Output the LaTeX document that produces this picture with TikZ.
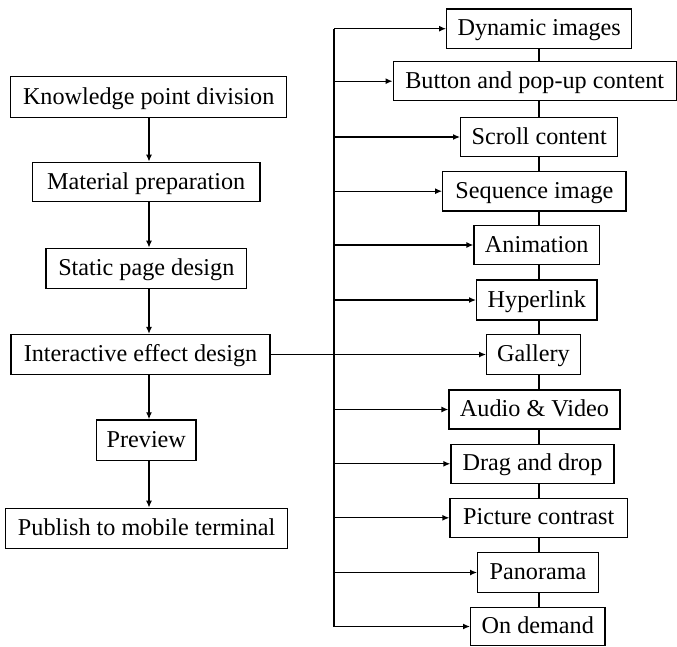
\documentclass[tikz,border=0pt]{standalone}
\usepackage{fontspec}
\setmainfont{Liberation Serif}
\usetikzlibrary{arrows.meta}
\begin{document}
\begin{tikzpicture}[x=1pt,y=-1pt,
  box/.style={draw, line width=1.3pt, inner sep=0pt, text height=17.5pt, text depth=3.5pt,
    font=\fontsize{24.2}{28}\selectfont},
  link/.style={line width=1.3pt},
  arr/.style={line width=1.3pt, -{Latex[length=7pt,width=6pt]}}]
\useasboundingbox (0,0) rectangle (677,646);
% main workflow (left column)
\node[box, minimum width=276, minimum height=40.6] (k) at (148.7,97) {Knowledge point division};
\node[box, minimum width=227.7, minimum height=39.4] (m) at (146.2,182) {Material preparation};
\node[box, minimum width=200.7, minimum height=40] (s) at (146.3,268.3) {Static page design};
\node[box, minimum width=259, minimum height=40] (i) at (140.5,354.5) {Interactive effect design};
\node[box, minimum width=99.3, minimum height=40.7] (p) at (146.3,440.3) {Preview};
\node[box, minimum width=282, minimum height=40] (u) at (146.7,528.3) {Publish to mobile terminal};
% interactive effects (right column)
\node[box, minimum width=185, minimum height=39.3] (r1) at (539.2,28.7) {Dynamic images};
\node[box, minimum width=283, minimum height=39] (r2) at (534.7,81.2) {Button and pop-up content};
\node[box, minimum width=157, minimum height=39.4] (r3) at (539.2,137) {Scroll content};
\node[box, minimum width=183.3, minimum height=39.7] (r4) at (534.4,191.2) {Sequence image};
\node[box, minimum width=125.3, minimum height=38.6] (r5) at (536.7,245) {Animation};
\node[box, minimum width=120.3, minimum height=40] (r6) at (536.8,300) {Hyperlink};
\node[box, minimum width=93.6, minimum height=40] (r7) at (533.5,354.5) {Gallery};
\node[box, minimum width=171, minimum height=39] (r8) at (534.5,409.5) {Audio \& Video};
\node[box, minimum width=163, minimum height=39] (r9) at (532.5,463.8) {Drag and drop};
\node[box, minimum width=177.3, minimum height=39] (r10) at (538.7,517.8) {Picture contrast};
\node[box, minimum width=120.6, minimum height=40.4] (r11) at (538,572.5) {Panorama};
\node[box, minimum width=134.3, minimum height=38.5] (r12) at (537.8,626.5) {On demand};
% guide lines
\coordinate (lx) at (149,0);
\coordinate (bus) at (334,0);
\coordinate (spine) at (539,0);
% left column arrows
\draw[arr] (k.south -| lx) -- (m.north -| lx);
\draw[arr] (m.south -| lx) -- (s.north -| lx);
\draw[arr] (s.south -| lx) -- (i.north -| lx);
\draw[arr] (i.south -| lx) -- (p.north -| lx);
\draw[arr] (p.south -| lx) -- (u.north -| lx);
% branch bus
\draw[link] (r1.west -| bus) -- (r12.west -| bus);
\draw[arr] (i.east) -- (r7.west);
\foreach \n in {r1,r2,r3,r4,r5,r6,r8,r9,r10,r11,r12}
  \draw[arr] (\n.west -| bus) -- (\n.west);
% right column spine
\foreach \a/\b in {r1/r2,r2/r3,r3/r4,r4/r5,r5/r6,r6/r7,r7/r8,r8/r9,r9/r10,r10/r11,r11/r12}
  \draw[link] (\a.south -| spine) -- (\b.north -| spine);
\end{tikzpicture}
\end{document}
